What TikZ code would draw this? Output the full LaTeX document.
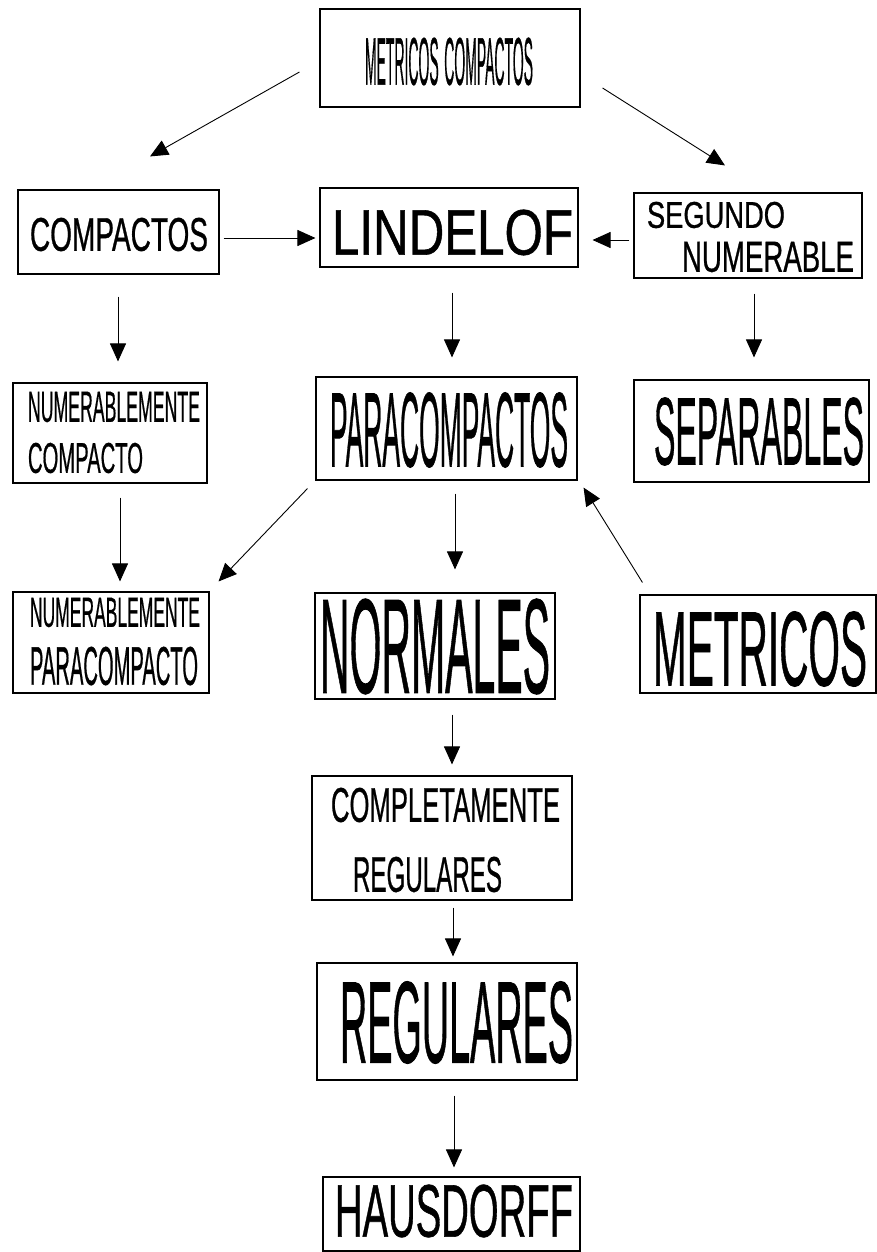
\documentclass[tikz,border=0pt]{standalone}
\usepackage{graphicx}
\usepackage{fontspec}
\setmainfont[FakeBold=0.9]{Liberation Sans}
\usetikzlibrary{arrows.meta,calc}
\newcommand\stxt[3]{\resizebox{#1pt}{#2pt}{#3}}
\begin{document}
\begin{tikzpicture}[x=1pt,y=-1pt,
  box/.style={draw=black,line width=1.1pt,rectangle,inner sep=0pt},
  lbl/.style={inner sep=0pt,anchor=center},
  arr/.style={draw=black,line width=0.9pt,-{Triangle[length=18pt,width=16pt,scale=1]}}]
\path[use as bounding box,fill=white] (0,0) rectangle (877,1252);

% boxes
\node[box,minimum width=260pt,minimum height=98pt]  (mc)    at (450,58) {};
\node[box,minimum width=201pt,minimum height=84pt]  (comp)  at (118.5,232) {};
\node[box,minimum width=258pt,minimum height=79pt]  (lind)  at (449,227.5) {};
\node[box,minimum width=228pt,minimum height=85pt]  (seg)   at (748,235.5) {};
\node[box,minimum width=194pt,minimum height=100pt] (ncomp) at (110,433) {};
\node[box,minimum width=261pt,minimum height=103pt] (para)  at (446.5,428.5) {};
\node[box,minimum width=235pt,minimum height=102pt] (sep)   at (751.5,431) {};
\node[box,minimum width=196pt,minimum height=101pt] (np)    at (111,642.5) {};
\node[box,minimum width=240pt,minimum height=106pt] (norm)  at (435,646) {};
\node[box,minimum width=236pt,minimum height=98pt]  (met)   at (758,644) {};
\node[box,minimum width=260pt,minimum height=124pt] (creg)  at (442,838) {};
\node[box,minimum width=260pt,minimum height=117pt] (reg)   at (447,1021.5) {};
\node[box,minimum width=257pt,minimum height=74pt]  (haus)  at (451.5,1214) {};

% texts
\node[lbl] (tmc)   at (449,61.5)  {\stxt{168}{47}{METRICOS\hspace{0.4em}COMPACTOS}};
\node[lbl] (tcomp) at (119,234.5) {\stxt{178}{33}{COMPACTOS}};
\node[lbl] (tlind) at (452.5,232.5) {\stxt{241}{45}{LINDELOF}};
\node[lbl] (tseg1) at (716,215)   {\stxt{138}{26}{SEGUNDO}};
\node[lbl] (tseg2) at (768,257)   {\stxt{172}{30}{NUMERABLE}};
\node[lbl] (tnc1)  at (114,407)   {\stxt{172}{30}{NUMERABLEMENTE}};
\node[lbl] (tnc2)  at (85.5,458)  {\stxt{115}{30}{COMPACTO}};
\node[lbl] (tpara) at (449,430)   {\stxt{238}{74}{PARACOMPACTOS}};
\node[lbl] (tsep)  at (759,431.5) {\stxt{210}{67}{SEPARABLES}};
\node[lbl] (tnp1)  at (115,612.5) {\stxt{170}{29}{NUMERABLEMENTE}};
\node[lbl] (tnp2)  at (114,666)   {\stxt{168}{38}{PARACOMPACTO}};
\node[lbl] (tnorm) at (435,646.5) {\stxt{230}{94}{NORMALES}};
\node[lbl] (tmet)  at (760,649)   {\stxt{214}{74}{METRICOS}};
\node[lbl] (tcr1)  at (445.5,805) {\stxt{229}{34}{COMPLETAMENTE}};
\node[lbl] (tcr2)  at (427.5,874.5) {\stxt{149}{35}{REGULARES}};
\node[lbl] (treg)  at (456.5,1022.5) {\stxt{233}{81}{REGULARES}};
\node[lbl] (thaus) at (454,1211) {\stxt{238}{52}{HAUSDORFF}};

% connectors
\draw[arr] ([shift={(-20,14)}]mc.west) -- ([shift={(31.5,-33)}]comp.north);
\draw[arr] ([shift={(22,30)}]mc.east) -- ([shift={(-23,-27)}]seg.north);
\draw[arr] ([shift={(4,6)}]comp.east) -- ([shift={(-4,10.5)}]lind.west);
\draw[arr] ([shift={(-4,4.5)}]seg.west) -- ([shift={(14,12.5)}]lind.east);
\draw[arr] ([shift={(-0.5,22)}]comp.south) -- ([shift={(8,-21)}]ncomp.north);
\draw[arr] ([shift={(3,25)}]lind.south) -- ([shift={(5.5,-19)}]para.north);
\draw[arr] ([shift={(6,15)}]seg.south) -- ([shift={(2.5,-22)}]sep.north);
\draw[arr] ([shift={(10,14)}]ncomp.south) -- ([shift={(9,-10)}]np.north);
\draw[arr] ([shift={(-8,8)}]para.south west) -- ([shift={(9,-10)}]np.north east);
\draw[arr] ([shift={(8.5,13)}]para.south) -- ([shift={(20,-23)}]norm.north);
\draw[arr] ([shift={(3,-12)}]met.north west) -- ([shift={(6,7)}]para.south east);
\draw[arr] ([shift={(17,15)}]norm.south) -- ([shift={(10,-11)}]creg.north);
\draw[arr] ([shift={(11,7)}]creg.south) -- ([shift={(6,-6)}]reg.north);
\draw[arr] ([shift={(7,15)}]reg.south) -- ([shift={(2.5,-9)}]haus.north);
\end{tikzpicture}
\end{document}
